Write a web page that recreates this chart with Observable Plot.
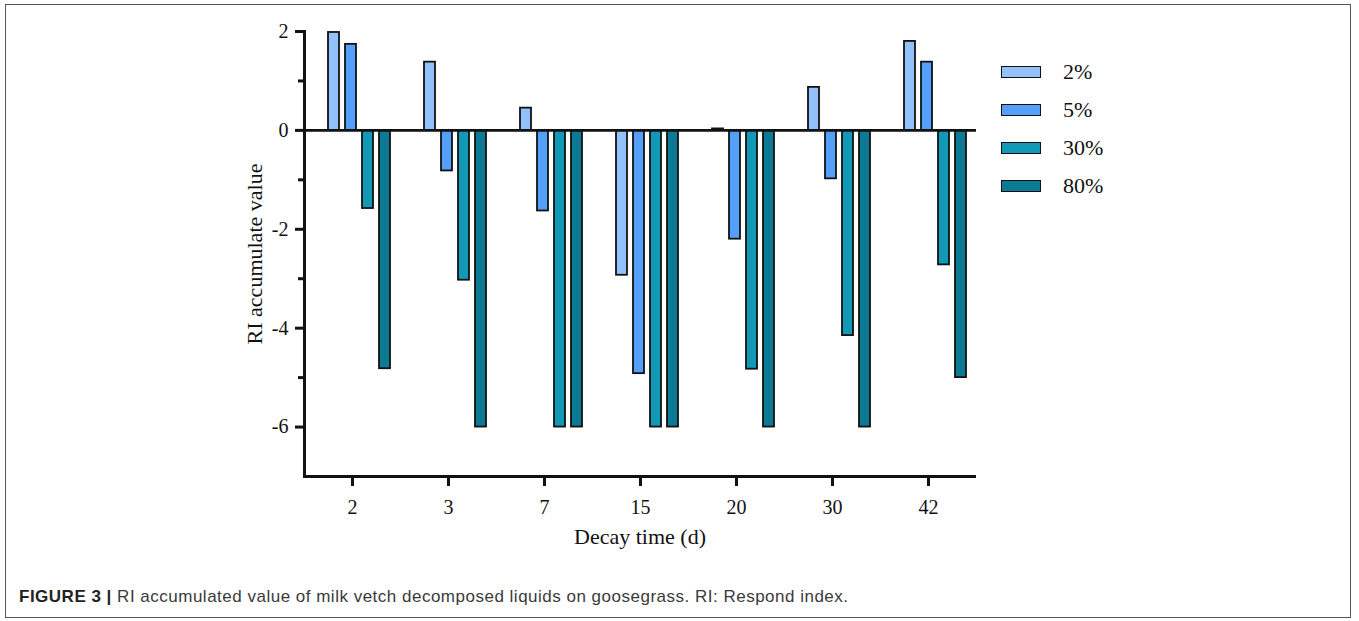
<!DOCTYPE html>
<html>
<head>
<meta charset="utf-8">
<script src="https://cdn.jsdelivr.net/npm/d3@7"></script>
<script src="https://cdn.jsdelivr.net/npm/@observablehq/plot@0.6"></script>
<style>
  html, body { margin: 0; padding: 0; background: #fff; }
  #fig { position: relative; width: 1359px; height: 621px; overflow: hidden; }
  #border { position: absolute; left: 5px; top: 4px; width: 1346px; height: 614px; border: 1.5px solid #555; box-sizing: border-box; }
  #chart { position: absolute; left: 0; top: 0; }
  #legend { position: absolute; left: 1001px; top: 53px; font-family: "Liberation Serif", "Times New Roman", serif; font-size: 22px; color: #111; }
  .row { display: flex; align-items: center; height: 38px; }
  .sw { width: 38px; height: 10px; border: 1.6px solid #111; margin-right: 22px; }
  #caption { position: absolute; left: 19px; top: 587px; font-family: "Liberation Sans", Arial, sans-serif; font-size: 17px; letter-spacing: 0.5px; color: #3a3a3a; white-space: nowrap; }
  #caption b { color: #222; }
</style>
</head>
<body>
<div id="fig">
  <div id="border"></div>
  <div id="chart"></div>
  <div id="legend"></div>
  <div id="caption"><b>FIGURE 3 |</b> RI accumulated value of milk vetch decomposed liquids on goosegrass. RI: Respond index.</div>
</div>
<script>
const days = ["2", "3", "7", "15", "20", "30", "42"];
const series = ["2%", "5%", "30%", "80%"];
const colors = ["#93C1FA", "#559FFB", "#1199B5", "#0A7B93"];
const v2  = [1.98, 1.38, 0.45, -2.93, 0.03, 0.87, 1.80];
const v5  = [1.74, -0.82, -1.63, -4.92, -2.20, -0.98, 1.38];
const v30 = [-1.58, -3.03, -6.00, -6.00, -4.83, -4.15, -2.72];
const v80 = [-4.82, -6.00, -6.00, -6.00, -6.00, -6.00, -5.00];
const yMajor = [2, 0, -2, -4, -6];
const yMinor = [1, -1, -3, -5];

const valuesBySeries = [v2, v5, v30, v80];
const data = [];
series.forEach((s, i) => days.forEach((d, j) => data.push({day: d, series: s, value: valuesBySeries[i][j]})));

const serif = '"Liberation Serif", "Times New Roman", serif';

const plot = Plot.plot({
  width: 990,
  height: 560,
  marginLeft: 301,
  marginRight: 12,
  marginTop: 31,
  marginBottom: 84,
  style: {fontFamily: serif, fontSize: "20px", color: "#111", background: "transparent"},
  fx: {domain: days, padding: 0, label: null},
  x: {domain: series, paddingInner: 0.353, paddingOuter: 0.994, align: 0.7, axis: null},
  y: {domain: [-7, 2], label: null},
  color: {domain: series, range: colors},
  marks: [
    Plot.barY(data, {fx: "day", x: "series", y: "value", fill: "series", stroke: "#111", strokeWidth: 1.8}),
    Plot.ruleY([0], {stroke: "#111", strokeWidth: 2.6}),
    Plot.ruleY([-7], {stroke: "#111", strokeWidth: 3}),
    Plot.frame({anchor: "left", facetAnchor: "left", stroke: "#111", strokeWidth: 3}),
    Plot.axisY({ticks: yMajor, tickSize: 9, strokeWidth: 3, tickPadding: 7, fontSize: 20, tickFormat: d => String(d).replace("−", "-"), label: null}),
    Plot.axisY({ticks: yMinor, tickSize: 6, strokeWidth: 3, tickFormat: () => "", label: null}),
    Plot.axisFx({anchor: "bottom", tickSize: 10, strokeWidth: 3, tickPadding: 13, fontSize: 20, label: null}),
    Plot.text(["RI accumulate value"], {frameAnchor: "left", facetAnchor: "left", rotate: -90, dx: -50, fontSize: 22, textAnchor: "middle"}),
  ]
});
document.getElementById("chart").appendChild(plot);

// Axis title below the x axis
const lbl = document.createElement("div");
lbl.textContent = "Decay time (d)";
Object.assign(lbl.style, {position: "absolute", left: "305px", width: "670px", top: "524px", textAlign: "center", fontFamily: serif, fontSize: "22px", color: "#111"});
document.getElementById("fig").appendChild(lbl);

// Legend
const legend = document.getElementById("legend");
series.forEach((s, i) => {
  const row = document.createElement("div");
  row.className = "row";
  const sw = document.createElement("div");
  sw.className = "sw";
  sw.style.background = colors[i];
  const t = document.createElement("span");
  t.textContent = s;
  row.appendChild(sw); row.appendChild(t);
  legend.appendChild(row);
});
</script>
</body>
</html>
